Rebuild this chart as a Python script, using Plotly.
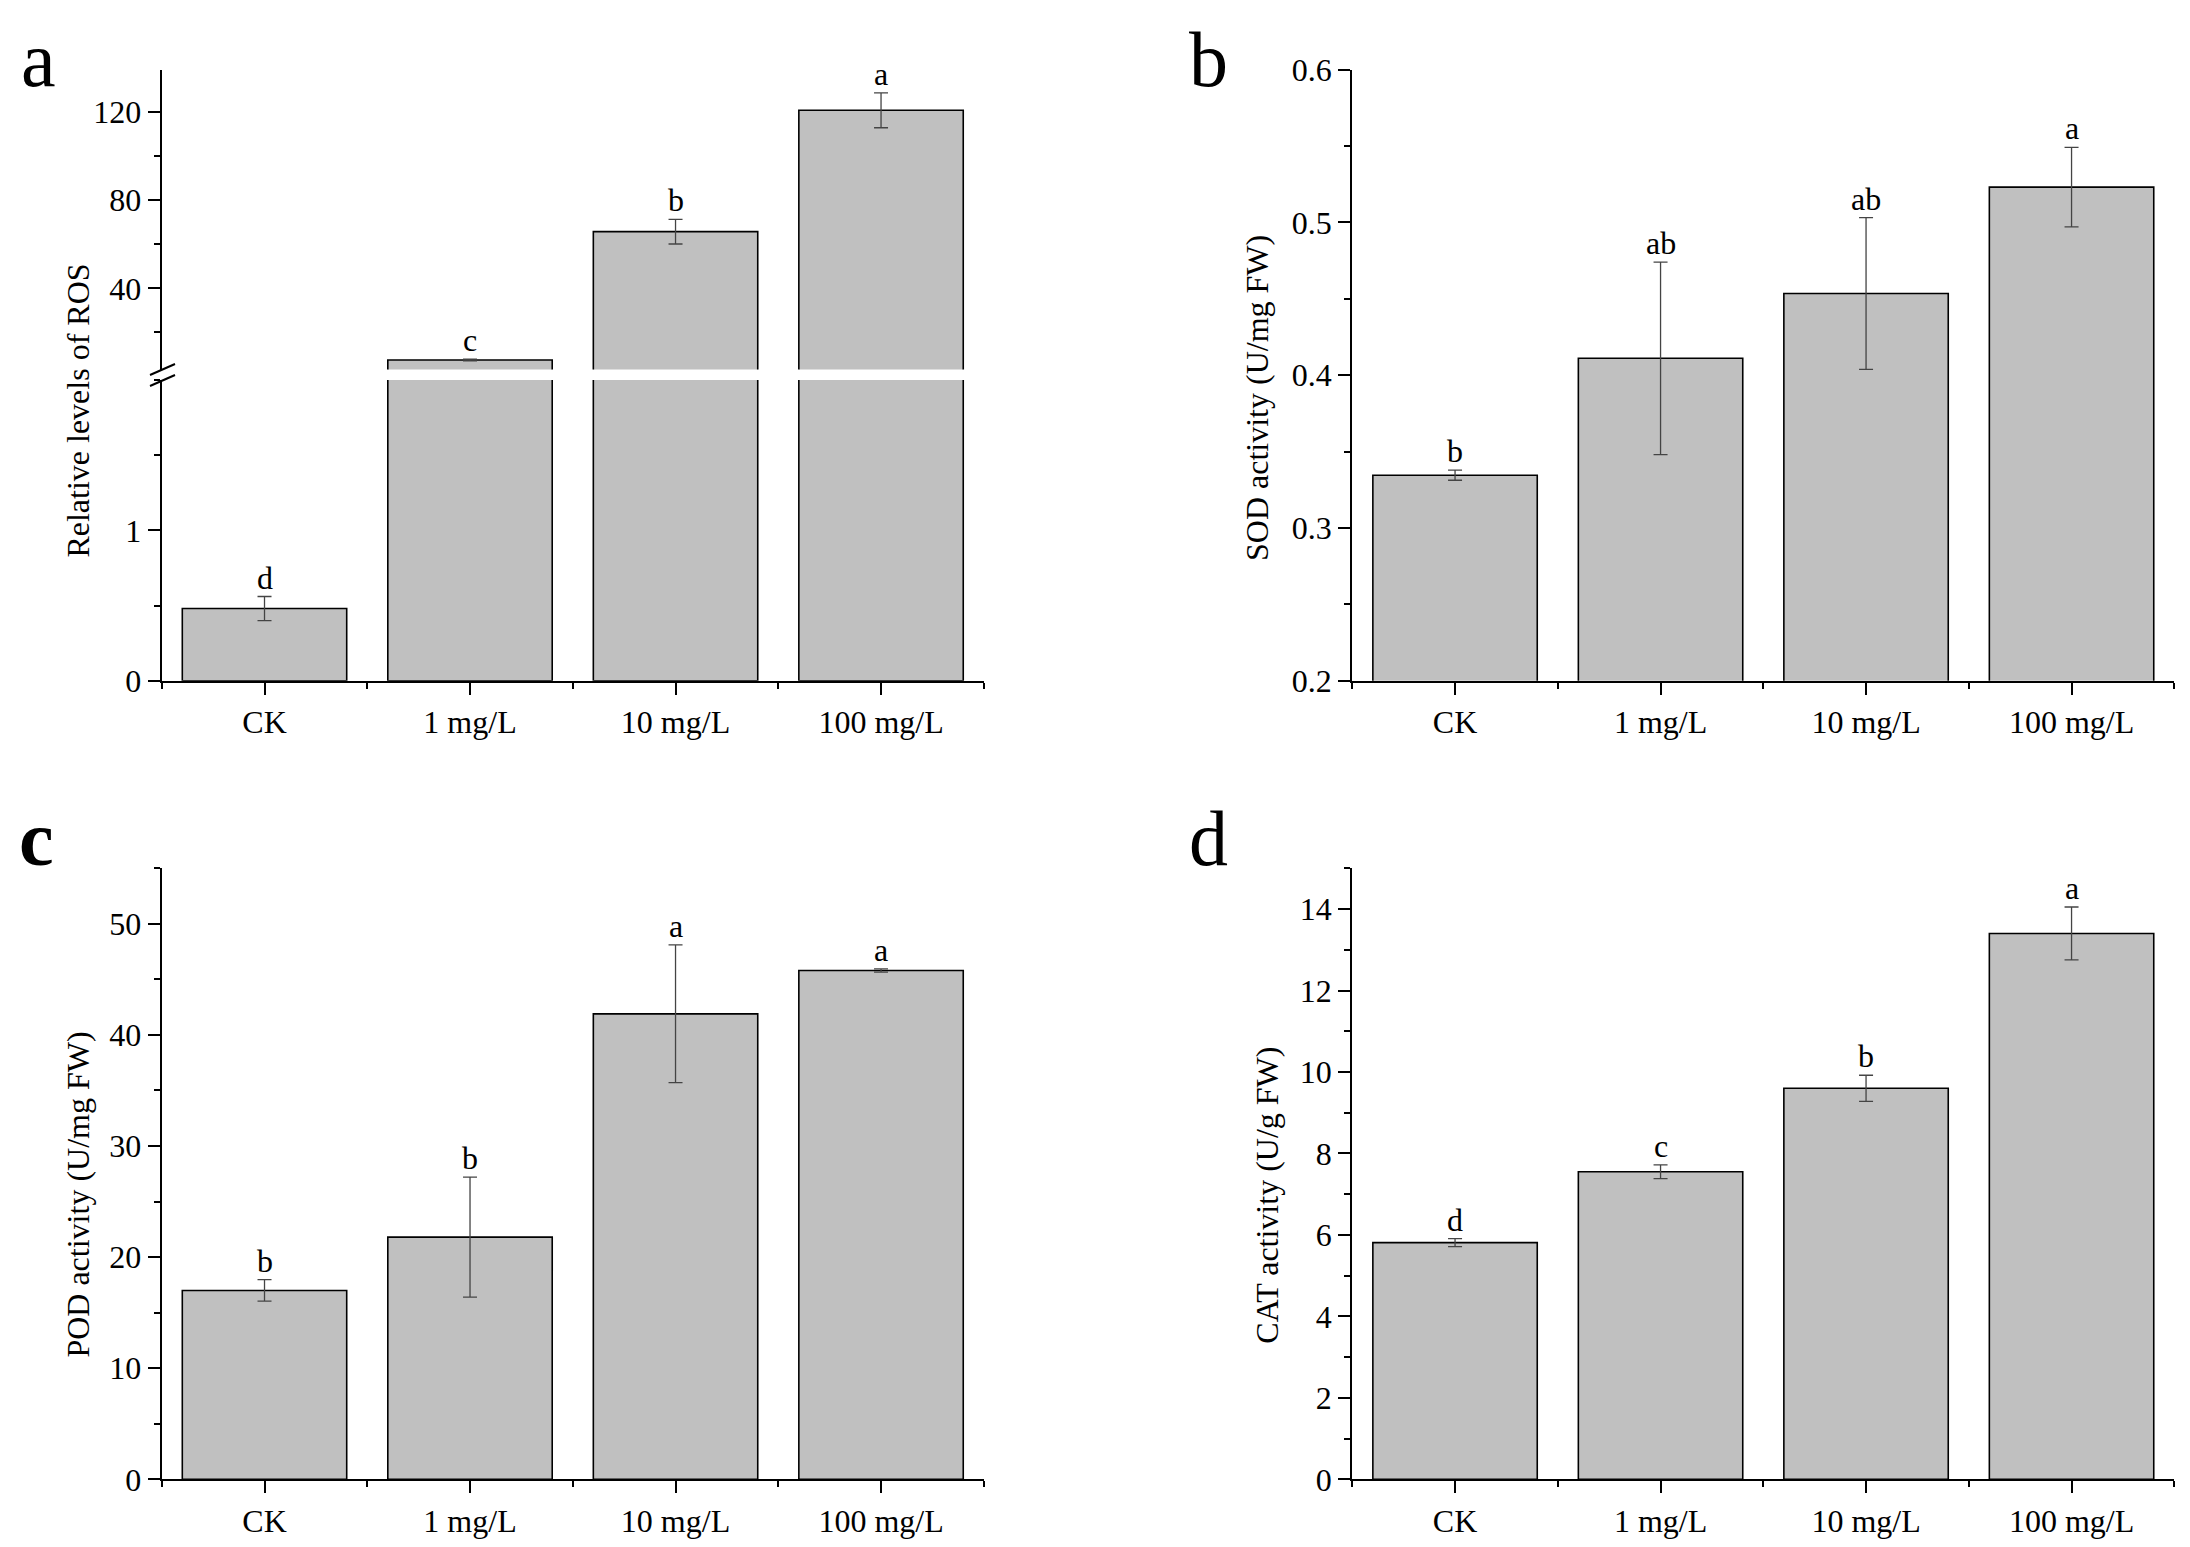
import plotly.graph_objects as go

categories = ["CK", "1 mg/L", "10 mg/L", "100 mg/L"]

ros_mean = [0.48, 7.5, 65.7, 120.7]
ros_err = [0.08, 0.4, 5.6, 7.9]
ros_letters = ["d", "c", "b", "a"]

sod_mean = [0.3345, 0.411, 0.4534, 0.523]
sod_err = [0.0033, 0.063, 0.0497, 0.026]
sod_letters = ["b", "ab", "ab", "a"]

pod_mean = [17.0, 21.8, 41.9, 45.8]
pod_err = [0.97, 5.4, 6.2, 0.15]
pod_letters = ["b", "b", "a", "a"]

cat_mean = [5.81, 7.55, 9.6, 13.4]
cat_err = [0.1, 0.17, 0.32, 0.65]
cat_letters = ["d", "c", "b", "a"]

W, H = 2190, 1547
FONT = "Liberation Serif"
OFF = 8  # page body margin
xpos = list(range(len(categories)))


def px_x(p):
    return (p - OFF) / W


def px_y(p):
    return 1 - (p - OFF) / H


fig = go.Figure()


def add_bars(mean, err, xa, ya):
    fig.add_trace(go.Bar(
        x=xpos, y=mean, xaxis=xa, yaxis=ya, width=0.8,
        marker=dict(color="#c0c0c0", line=dict(color="black", width=1.6)),
        error_y=dict(type="data", array=err, visible=True,
                     color="#444444", thickness=1.3, width=7),
        showlegend=False, hoverinfo="skip"))


def add_letters(mean, err, letters, xa, ya):
    for x, m, e, t in zip(xpos, mean, err, letters):
        fig.add_annotation(x=x, y=m + e, xref=xa, yref=ya, text=t,
                           showarrow=False, yanchor="bottom", yshift=-1,
                           font=dict(family=FONT, size=32, color="black"))


# panel a: broken axis, lower part y / upper part y5 share x
add_bars(ros_mean, ros_err, "x", "y")
add_bars(ros_mean, ros_err, "x", "y5")
for x, m, e, t in zip(xpos, ros_mean, ros_err, ros_letters):
    ya = "y" if m + e < 2 else "y5"
    fig.add_annotation(x=x, y=m + e, xref="x", yref=ya, text=t,
                       showarrow=False, yanchor="bottom", yshift=-1,
                       font=dict(family=FONT, size=32, color="black"))

add_bars(sod_mean, sod_err, "x2", "y2")
add_letters(sod_mean, sod_err, sod_letters, "x2", "y2")
add_bars(pod_mean, pod_err, "x3", "y3")
add_letters(pod_mean, pod_err, pod_letters, "x3", "y3")
add_bars(cat_mean, cat_err, "x4", "y4")
add_letters(cat_mean, cat_err, cat_letters, "x4", "y4")

left_dom = [px_x(161.75), px_x(983.8)]
right_dom = [px_x(1352.3), px_x(2174.3)]
top_dom = [px_y(680.7), px_y(69.5)]
bot_dom = [px_y(1479.3), px_y(868.3)]

tickfont = dict(family=FONT, size=32, color="black")
axis_common = dict(showline=True, linecolor="black", linewidth=2.2,
                   ticks="outside", tickcolor="black", tickwidth=2,
                   ticklen=12, tickfont=tickfont, showgrid=False,
                   zeroline=False, mirror=False, automargin=False)


def xaxis(dom, anchor):
    return dict(axis_common, domain=dom, anchor=anchor, range=[-0.5, 3.5],
                tickmode="array", tickvals=xpos, ticktext=categories,
                minor=dict(tick0=-0.5, dtick=1, ticklen=6, ticks="outside",
                           tickcolor="black", tickwidth=2))


def yaxis(dom, anchor, rng, dtick, minor_dtick, fmt=None, tickvals=None):
    d = dict(axis_common, domain=dom, anchor=anchor, range=rng,
             tick0=0, dtick=dtick,
             minor=dict(tick0=0, dtick=minor_dtick, ticklen=6,
                        ticks="outside", tickcolor="black", tickwidth=2))
    if tickvals is not None:
        d["tickmode"] = "array"
        d["tickvals"] = tickvals
    if fmt:
        d["tickformat"] = fmt
    return d


fig.update_layout(
    template="none",
    width=W, height=H, margin=dict(l=0, r=0, t=0, b=0, pad=0),
    paper_bgcolor="white", plot_bgcolor="white",
    font=dict(family=FONT, color="black"),
    showlegend=False,
    xaxis=xaxis(left_dom, "y"),
    xaxis2=xaxis(right_dom, "y2"),
    xaxis3=xaxis(left_dom, "y3"),
    xaxis4=xaxis(right_dom, "y4"),
    yaxis=yaxis([px_y(680.7), px_y(380)], "x", [0, 2], 1, 0.5, tickvals=[0, 1]),
    yaxis5=yaxis([px_y(369.5), px_y(69.5)], "x", [3.2, 139.2], 40, 20),
    yaxis2=yaxis(top_dom, "x2", [0.2, 0.6], 0.1, 0.05, ".1f"),
    yaxis3=yaxis(bot_dom, "x3", [0, 55], 10, 5),
    yaxis4=yaxis(bot_dom, "x4", [0, 15], 2, 1),
)

# axis break marks
for cy in (369.5, 380.5):
    fig.add_shape(type="line", xref="paper", yref="paper",
                  x0=px_x(150), y0=px_y(cy + 5.5), x1=px_x(175), y1=px_y(cy - 5.5),
                  line=dict(color="black", width=2))

# axis titles
titles = [("Relative levels of ROS", 77.6, 411),
          ("SOD activity (U/mg FW)", 1257, 398),
          ("POD activity (U/mg FW)", 77.6, 1195),
          ("CAT activity (U/g FW)", 1266.7, 1195)]
for t, x, y in titles:
    fig.add_annotation(x=px_x(x), y=px_y(y), xref="paper", yref="paper",
                       text=t, textangle=-90, showarrow=False,
                       xanchor="center", yanchor="middle",
                       font=dict(family=FONT, size=32, color="black"))

# panel letters
panels = [("a", 20, 60, False), ("b", 1188, 60, False),
          ("c", 18, 838, True), ("d", 1188, 838, False)]
for t, x, y, bold in panels:
    fig.add_annotation(x=px_x(x), y=px_y(y), xref="paper", yref="paper",
                       text="<b>%s</b>" % t if bold else t, showarrow=False,
                       xanchor="left", yanchor="middle", borderpad=0,
                       font=dict(family=FONT, size=78, color="black"))

fig.write_html("out.html")
